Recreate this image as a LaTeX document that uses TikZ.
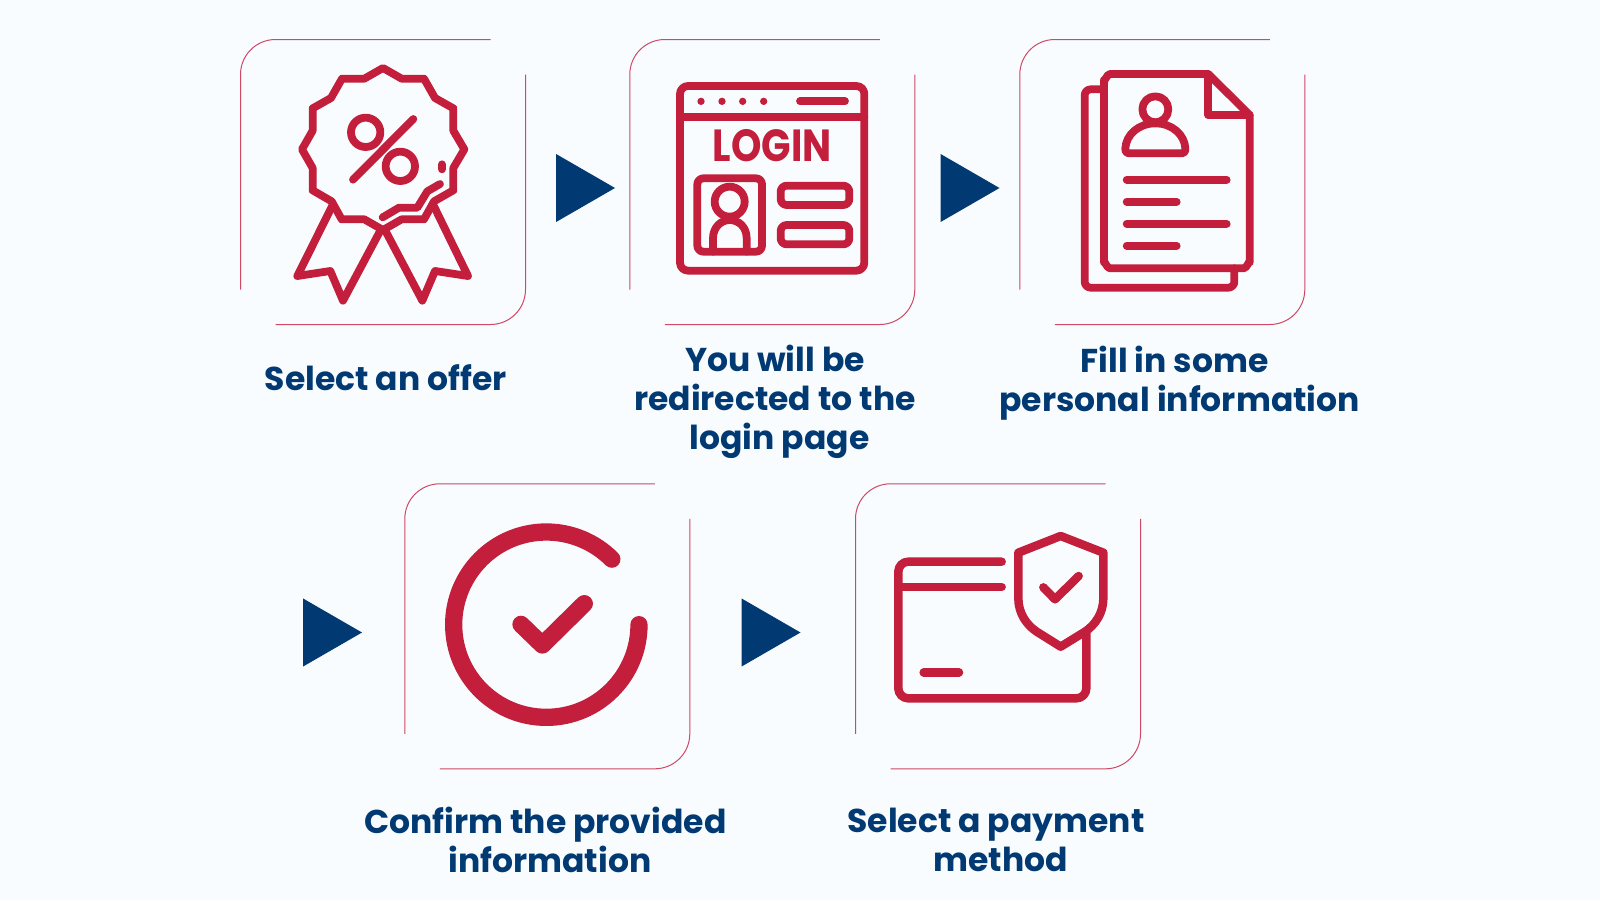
\documentclass[tikz,border=0pt]{standalone}
\usepackage{fontspec}
\setmainfont{Poppins}
\usepackage{xcolor}
\usepackage{tikz}
\usetikzlibrary{shapes.geometric}
\definecolor{pagebg}{RGB}{248, 252, 255}
\definecolor{stepred}{RGB}{195, 31, 61}
\definecolor{stepnavy}{RGB}{1, 58, 115}
\definecolor{framered}{RGB}{208, 72, 100}
\tikzset{
    framebox/.style={minimum width=285pt, minimum height=285pt, inner sep=0pt, outer sep=0pt},
    frameline/.style={draw=framered, line width=1pt, rounded corners=35pt},
    stepmark/.style={isosceles triangle, isosceles triangle apex angle=60, fill=stepnavy, inner sep=0pt, outer sep=0pt, minimum height=59pt, anchor=lower side},
    steplabel/.style={font=\bfseries\fontsize{33}{39}\selectfont, text=stepnavy, align=center},
    iconline/.style={draw=stepred, line width=7.8pt, line cap=round, line join=round},
}
\newcommand{\stepframe}[3]{
    \node[framebox] (#1) at (#2,#3) {};
    \draw[frameline] ([yshift=35pt]#1.south west) -- (#1.north west) -- ([xshift=250pt]#1.north west);
    \draw[frameline] ([yshift=-35pt]#1.north east) -- (#1.south east) -- ([xshift=-250pt]#1.south east);
}

\begin{document}
\begin{tikzpicture}[x=1pt, y=-1pt]
    \fill[pagebg] (0,0) rectangle (1600,900);
    \useasboundingbox (0,0) rectangle (1600,900);

    % frames
    \stepframe{offer}{383}{182}
    \stepframe{login}{772.3}{182}
    \stepframe{personal}{1162.3}{182}
    \stepframe{confirm}{547.3}{626.3}
    \stepframe{payment}{998}{626.3}

    % triangles between the steps
    \node[stepmark] (markA) at (556,188) {};
    \node[stepmark] (markB) at (940.5,188) {};
    \node[stepmark] (markC) at (303,632.5) {};
    \node[stepmark] (markD) at (741.5,632.5) {};

    % labels
    \node[steplabel] (offertext) at (385.7,378) {Select an offer};
    \node[steplabel] (logintext) at (775,402) {You will be\\redirected to the\\\hspace*{9pt}login page};
    \node[steplabel] (personaltext) at (1179.6,383) {Fill in some\hspace*{10pt}\\personal information};
    \node[steplabel] (confirmtext) at (545.4,840) {Confirm the provided\\\hspace*{9pt}information};
    \node[steplabel] (paymenttext) at (996,840) {Select a payment\\\hspace*{9pt}method};

    % badge
    \begin{scope}[shift={(220,20)}, scale=1/3]
        \draw[iconline] (489,144) -- (545,176) -- (612,176) -- (645,234) -- (700,265) -- (700,332) -- (733,388) -- (700,444) -- (700,511) -- (642,544) -- (612,598) -- (545,598) -- (489,630) -- (433,598) -- (365,598) -- (335,544) -- (278,511) -- (278,444) -- (246,388) -- (278,332) -- (278,265) -- (333,234) -- (366,176) -- (433,176) -- cycle;
        \draw[iconline] (437,337) circle[radius=44];
        \draw[iconline] (541,439) circle[radius=44];
        \draw[iconline] (399,479) -- (580,297);
        \draw[iconline] (666,433) -- (666,448);
        \draw[iconline] (488,592) -- (537,563) -- (592,563) -- (622,514) -- (660,492);
        \draw[iconline] (338,555) -- (232,768) -- (331,753) -- (369,842) -- (482,630);
        \draw[iconline] (640,555) -- (744,768) -- (645,753) -- (607,842) -- (495,630);
    \end{scope}

    % login window
    \begin{scope}[shift={(620,20)}, scale=1/3]
        \draw[iconline, rounded corners=8pt] (180,198) rectangle (733,752);
        \draw[iconline] (180,291) -- (733,291);
        \foreach \dotx in {243,306,368,431}
            \fill[stepred] (\dotx,244) circle[radius=11];
        \draw[iconline] (540,244) -- (675,244);
        \node[font=\bfseries\fontsize{45}{45}\selectfont, text=stepred, xscale=0.86, inner sep=0pt] (logintitle) at (457,377) {LOGIN};
        \draw[iconline, rounded corners=6pt] (232,475) rectangle (426,695);
        \draw[iconline] (329,545) circle[radius=45];
        \draw[iconline] (279,695) -- (279,655) .. controls (279,620) and (305,600) .. (329,600) .. controls (355,600) and (380,620) .. (380,655) -- (380,695);
        \draw[iconline, rounded corners=6pt] (482,497) rectangle (688,555);
        \draw[iconline, rounded corners=6pt] (482,615) rectangle (688,673);
    \end{scope}

    % documents
    \begin{scope}[shift={(1000,20)}, scale=1/3]
        \draw[iconline, rounded corners=6pt] (310,208) -- (254,208) -- (254,803) -- (703,803) -- (703,745);
        \draw[iconline] (625,162) -- (330,162) to[out=180, in=-90] (312,180) -- (312,727) to[out=90, in=180] (330,745) -- (731,745) to[out=0, in=90] (749,727) -- (749,285) -- cycle;
        \draw[iconline] (625,162) -- (625,285) -- (749,285);
        \draw[iconline] (466,268) circle[radius=39];
        \draw[iconline] (466,310) .. controls (415,310) and (378,345) .. (376,385) .. controls (375,395) and (380,400) .. (390,400) -- (542,400) .. controls (552,400) and (557,395) .. (556,385) .. controls (554,345) and (517,310) .. (466,310) -- cycle;
        \foreach \liney/\lineend in {479/680, 545/530, 611/680, 677/530}
            \draw[iconline] (380,\liney) -- (\lineend,\liney);
    \end{scope}

    % progress ring with check
    \begin{scope}[shift={(290,470)}, scale=1/3]
        \draw[iconline, line width=17.3pt] (1047,464) arc[start angle=0, end angle=315, radius=278];
        \draw[iconline, line width=17.3pt] (693,463) -- (757,525) -- (883,401);
    \end{scope}

    % card and shield
    \begin{scope}[shift={(840,470)}, scale=1/3]
        \draw[iconline, line width=8.5pt, rounded corners=10pt] (485,275) -- (175,275) -- (175,685) -- (739,685) -- (739,490);
        \draw[iconline, line width=8.5pt] (175,351) -- (485,351);
        \draw[iconline, line width=8.5pt] (251,607) -- (357,607);
        \draw[iconline, line width=8.5pt] (662,198) -- (790,248) -- (790,385) .. controls (790,430) and (765,465) .. (735,485) -- (662,530) -- (590,485) .. controls (560,465) and (535,430) .. (535,385) -- (535,248) -- cycle;
        \draw[iconline, line width=8.5pt] (610,352) -- (645,388) -- (716,318);
    \end{scope}
\end{tikzpicture}
\end{document}
